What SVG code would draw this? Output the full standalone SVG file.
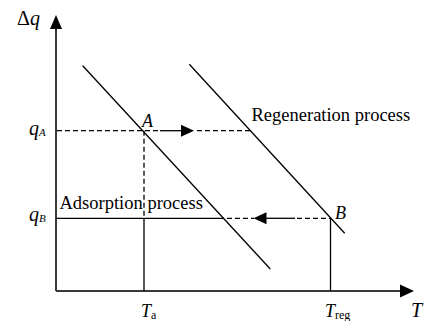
<svg xmlns="http://www.w3.org/2000/svg" width="424" height="321" viewBox="0 0 424 321">
<style>
.ax{stroke:#3a3a3a;stroke-width:2;fill:none}
.ln{stroke:#000;stroke-width:1.3;fill:none}
.ds{stroke:#000;stroke-width:1.3;fill:none;stroke-dasharray:5 3}
.ah{fill:#000;stroke:none}
.t{font-family:"Liberation Serif","Times New Roman",serif;fill:#000}
.i{font-style:italic}
</style>
<rect width="424" height="321" fill="#fff"/>
<g id="axes">
<line class="ax" x1="56" y1="291" x2="56" y2="26"/>
<polygon class="ah" points="56,15 50,29 62,29"/>
<line class="ax" x1="56" y1="291" x2="402" y2="291"/>
<polygon class="ah" points="414,291 400,284.5 400,297.5"/>
</g>
<g id="isotherms">
<line class="ln" x1="82.7" y1="65.7" x2="270.3" y2="269"/>
<line class="ln" x1="189.3" y1="64.3" x2="344.7" y2="233.3"/>
</g>
<g id="connectors">
<line class="ds" x1="57" y1="130.7" x2="160" y2="130.7"/>
<line class="ln" x1="160" y1="130.7" x2="182" y2="130.7"/>
<polygon class="ah" points="194,130.7 181,124.7 181,136.7"/>
<line class="ds" x1="197" y1="130.7" x2="250" y2="130.7"/>
<line class="ds" x1="144" y1="130.7" x2="144" y2="218.3"/>
<line class="ln" x1="144" y1="218.3" x2="144" y2="291"/>
<line class="ln" x1="56" y1="218.3" x2="224" y2="218.3"/>
<line class="ds" x1="227" y1="218.3" x2="254" y2="218.3"/>
<polygon class="ah" points="253.5,218.3 266.5,212.3 266.5,224.3"/>
<line class="ln" x1="266" y1="218.3" x2="295" y2="218.3"/>
<line class="ds" x1="297" y1="218.3" x2="330.5" y2="218.3"/>
<line class="ln" x1="330.5" y1="218.3" x2="330.5" y2="291"/>
</g>
<g id="labels">
<text class="t" x="17" y="25" font-size="20">Δ<tspan class="i">q</tspan></text>
<text class="t i" x="29" y="135" font-size="20">q<tspan font-size="11" dy="1">A</tspan></text>
<text class="t i" x="29" y="221" font-size="20">q<tspan font-size="11" dy="1">B</tspan></text>
<text class="t i" x="142" y="126.5" font-size="18">A</text>
<text class="t i" x="335" y="219" font-size="18">B</text>
<text class="t" x="251.5" y="120.5" font-size="18.5">Regeneration process</text>
<text class="t" x="59.5" y="208.8" font-size="18.5">Adsorption process</text>
<text class="t i" x="141" y="316.7" font-size="18">T<tspan font-style="normal" font-size="12" dy="2.5">a</tspan></text>
<text class="t i" x="325" y="316.7" font-size="18">T<tspan font-style="normal" font-size="12" dy="2.5">reg</tspan></text>
<text class="t i" x="411" y="316.7" font-size="20">T</text>
</g>
</svg>
